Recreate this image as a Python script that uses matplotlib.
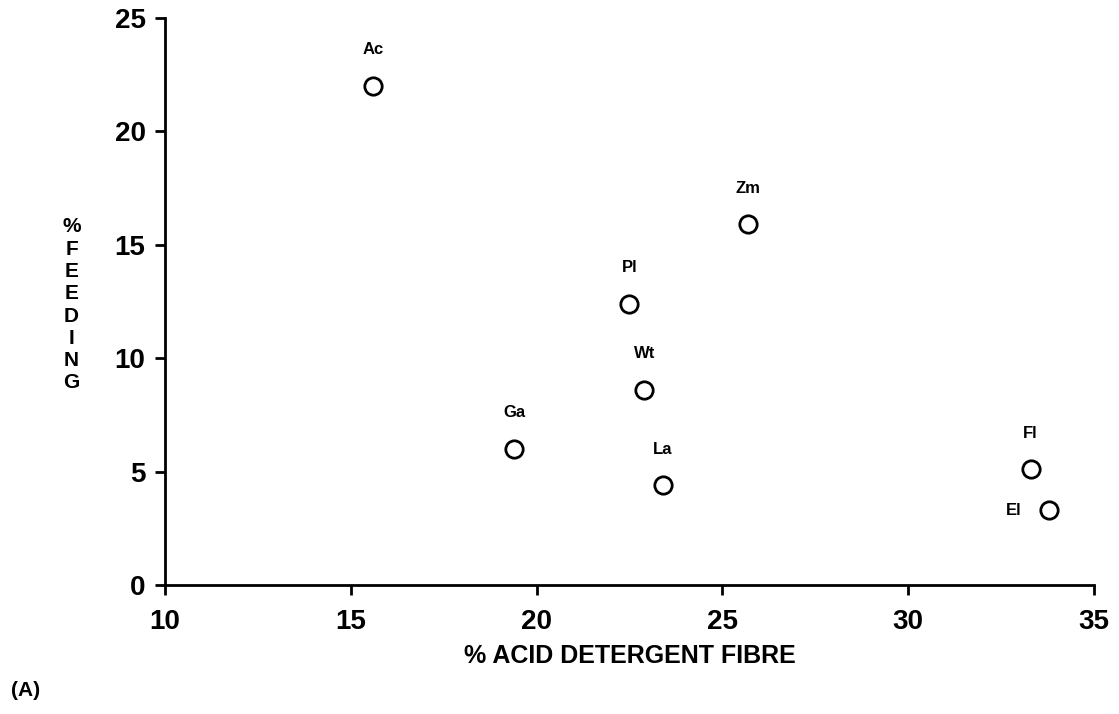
import matplotlib.pyplot as plt

# % acid detergent fibre vs % feeding, per plant species
species = ["Ac", "Zm", "Pl", "Wt", "Ga", "La", "Fl", "El"]
adf     = [15.6, 25.7, 22.5, 22.9, 19.4, 23.4, 33.3, 33.8]
feeding = [22.0, 15.9, 12.4, 8.6, 6.0, 4.4, 5.1, 3.3]

plt.rcParams["font.family"] = ["Liberation Sans", "DejaVu Sans"]
plt.rcParams["font.weight"] = "bold"

fig = plt.figure(figsize=(11.19, 7.14), dpi=100)
ax = fig.add_axes([0.1475, 0.1807, 0.830, 0.794])

ax.plot(adf, feeding, "o", ms=12.5, mfc="white", mec="black", mew=2.0, ls="none")

for name, x, y in zip(species, adf, feeding):
    if name == "El":
        ax.annotate(name, (x, y), xytext=(-20, 0), textcoords="offset points",
                    ha="right", va="center", fontsize=12, fontweight="bold")
    else:
        ax.annotate(name, (x, y), xytext=(0, 26), textcoords="offset points",
                    ha="center", va="center", fontsize=12, fontweight="bold")

ax.set_xlim(10, 35)
ax.set_ylim(0, 25)
ax.set_xticks([10, 15, 20, 25, 30, 35])
ax.set_yticks([0, 5, 10, 15, 20, 25])

for side in ["top", "right"]:
    ax.spines[side].set_visible(False)
for side in ["left", "bottom"]:
    ax.spines[side].set_linewidth(2.0)

ax.tick_params(direction="out", length=7, width=2.0, labelsize=20, pad=7)
ax.tick_params(axis="x", pad=10)
for lab in ax.get_xticklabels() + ax.get_yticklabels():
    lab.set_fontweight("bold")

ax.set_xlabel("% ACID DETERGENT FIBRE", fontsize=18, fontweight="bold", labelpad=7)
fig.text(0.064, 0.573, "%\nF\nE\nE\nD\nI\nN\nG", ha="center", va="center",
         fontsize=15, fontweight="bold", linespacing=1.22)
fig.text(0.010, 0.033, "(A)", ha="left", va="center", fontsize=15, fontweight="bold")

fig.savefig("out.png", dpi=100)
